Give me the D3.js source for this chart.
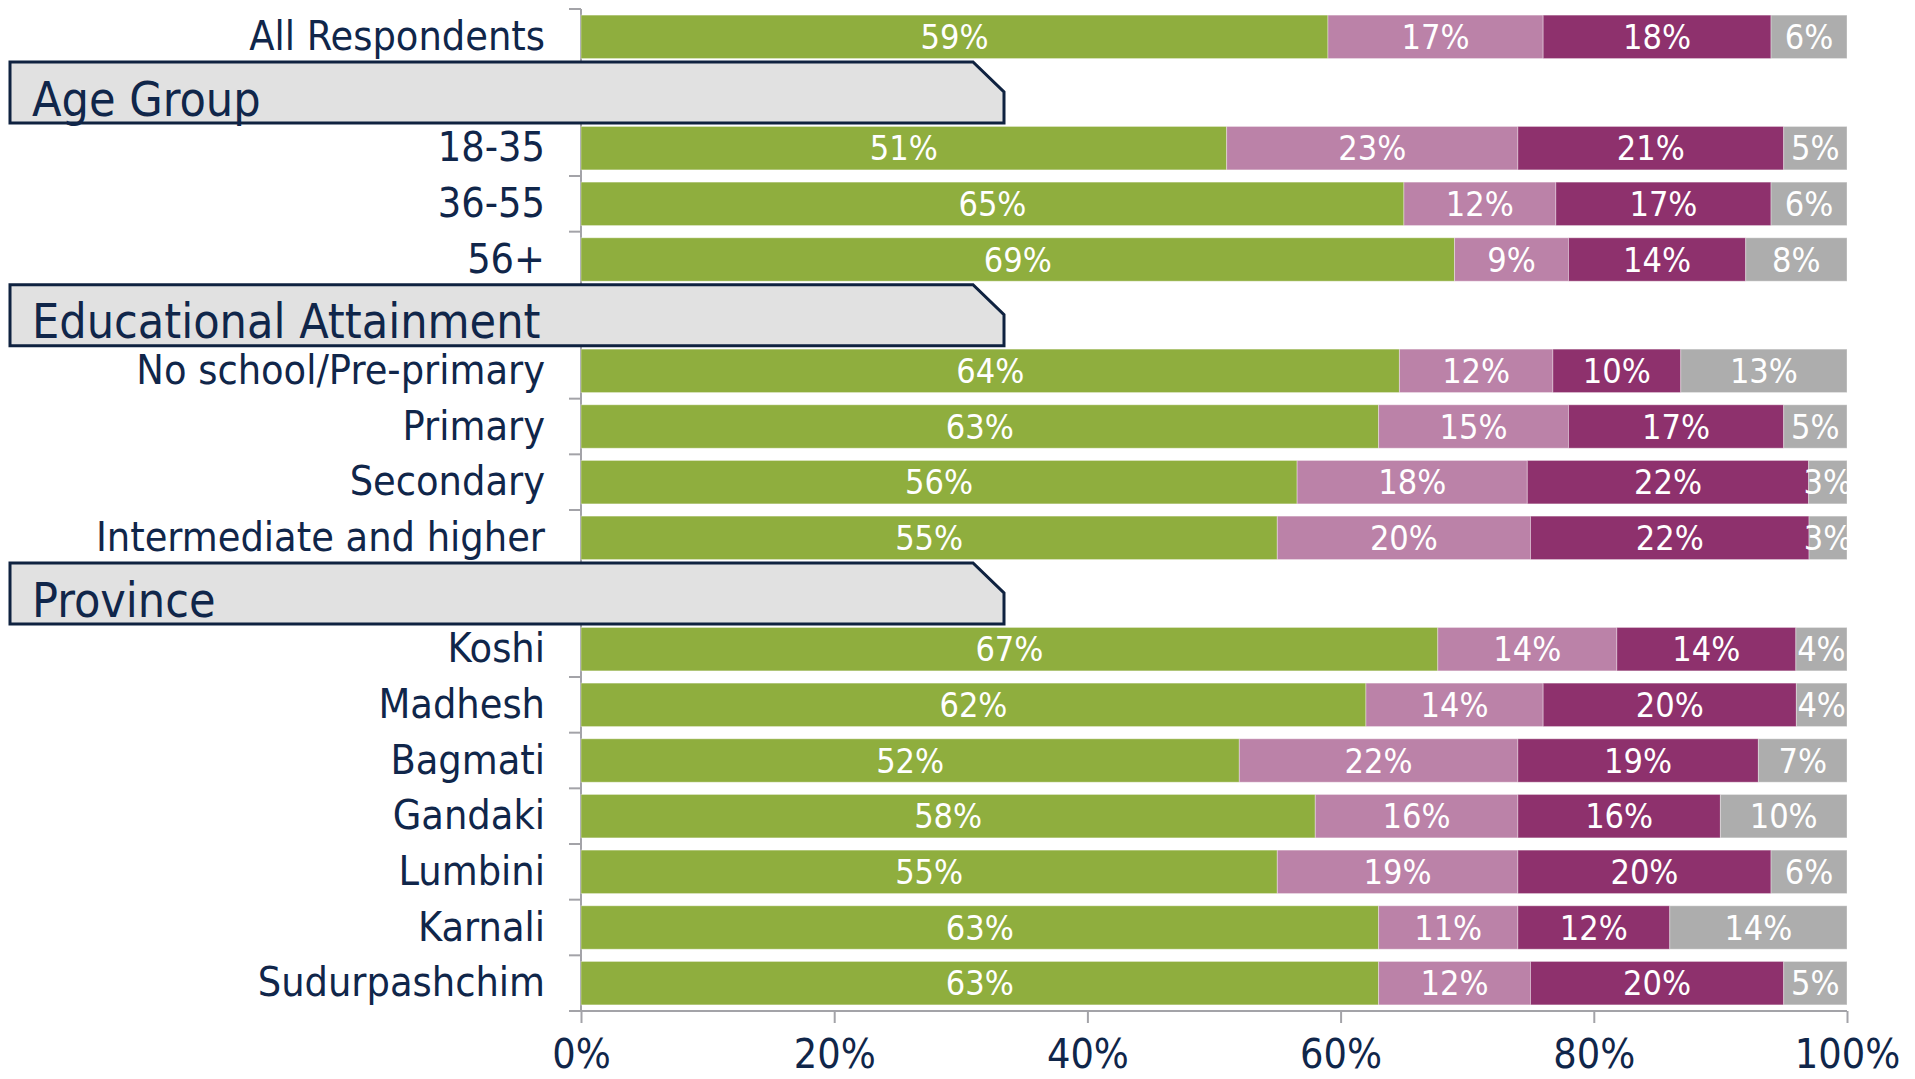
<!DOCTYPE html>
<html>
<head>
<meta charset="utf-8">
<script src="https://cdn.jsdelivr.net/npm/d3@7"></script>
<style>
  html, body { margin: 0; padding: 0; background: #fff; }
  svg { display: block; }
</style>
</head>
<body>
<script>
// rows in drawing order, group headers sit in their own row
const rowOrder = ["All Respondents", "Age Group", "18-35", "36-55", "56+",
  "Educational Attainment", "No school/Pre-primary", "Primary", "Secondary", "Intermediate and higher",
  "Province", "Koshi", "Madhesh", "Bagmati", "Gandaki", "Lumbini", "Karnali", "Sudurpashchim"];
const groupHeaders = ["Age Group", "Educational Attainment", "Province"];

const categories = ["All Respondents", "18-35", "36-55", "56+",
  "No school/Pre-primary", "Primary", "Secondary", "Intermediate and higher",
  "Koshi", "Madhesh", "Bagmati", "Gandaki", "Lumbini", "Karnali", "Sudurpashchim"];

// percent values, one per category (bars are 100% stacked)
const green       = [59, 51, 65, 69, 64, 63, 56, 55, 67, 62, 52, 58, 55, 63, 63];
const lightPurple = [17, 23, 12,  9, 12, 15, 18, 20, 14, 14, 22, 16, 19, 11, 12];
const darkPurple  = [18, 21, 17, 14, 10, 17, 22, 22, 14, 20, 19, 16, 20, 12, 20];
const grey        = [ 6,  5,  6,  8, 13,  5,  3,  3,  4,  4,  7, 10,  6, 14,  5];

const seriesKeys = ["green", "lightPurple", "darkPurple", "grey"];
const seriesColors = ["#8fae3e", "#bb82a8", "#8e316d", "#adadad"];
const tickValues = [0, 0.2, 0.4, 0.6, 0.8, 1];

const W = 1915, H = 1079;
const navy = "#10264a";
const labelFont = "'DejaVu Sans Condensed', 'DejaVu Sans', sans-serif";
const numFont = "'Liberation Sans Narrow', 'DejaVu Sans Condensed', sans-serif";

const table = categories.map((c, i) => ({
  category: c, green: green[i], lightPurple: lightPurple[i], darkPurple: darkPurple[i], grey: grey[i]
}));

const stacked = d3.stack().keys(seriesKeys).offset(d3.stackOffsetExpand)(table);

const svg = d3.select("body").append("svg").attr("width", W).attr("height", H);

const x = d3.scaleLinear().domain([0, 1]).range([581, 1847]);
const y = d3.scaleBand().domain(rowOrder).range([9, 1011]).paddingInner(0.22).paddingOuter(0.11);
const color = d3.scaleOrdinal().domain(seriesKeys).range(seriesColors);

// y axis line with ticks between rows, pointing left
const yAxis = svg.append("g").attr("stroke", "#a3a3a8").attr("stroke-width", 2);
yAxis.append("line").attr("x1", x(0)).attr("x2", x(0)).attr("y1", y.range()[0]).attr("y2", y.range()[1]);
const gap = y.step() * y.paddingInner() / 2;
rowOrder.forEach(r => {
  yAxis.append("line")
    .attr("x1", x(0) - 12).attr("x2", x(0))
    .attr("y1", y(r) - gap).attr("y2", y(r) - gap);
});

// bars
svg.append("g")
  .selectAll("g")
  .data(stacked)
  .join("g")
  .attr("fill", d => color(d.key))
  .selectAll("rect")
  .data(d => d)
  .join("rect")
  .attr("x", d => x(d[0]))
  .attr("width", d => x(d[1]) - x(d[0]))
  .attr("y", d => y(d.data.category))
  .attr("height", y.bandwidth())
  .attr("stroke", "#fff")
  .attr("stroke-opacity", 0.35)
  .attr("stroke-width", 1);

// value labels, clipped to plot area
svg.append("clipPath").attr("id", "plotClip")
  .append("rect")
  .attr("x", x(0)).attr("y", 0)
  .attr("width", x(1) - x(0)).attr("height", H);

const labelLayer = svg.append("g").attr("clip-path", "url(#plotClip)");
stacked.forEach(s => {
  labelLayer.append("g")
    .selectAll("text")
    .data(s)
    .join("text")
    .attr("x", d => x((d[0] + d[1]) / 2))
    .attr("y", d => y(d.data.category) + y.bandwidth() / 2 + 12)
    .attr("text-anchor", "middle")
    .attr("fill", "#fff")
    .style("font-family", numFont)
    .style("font-size", "34px")
    .text(d => d.data[s.key] + "%");
});

// category labels
svg.append("g")
  .selectAll("text")
  .data(categories)
  .join("text")
  .attr("x", 545)
  .attr("y", d => y(d) + y.bandwidth() / 2 + 13)
  .attr("text-anchor", "end")
  .attr("fill", navy)
  .style("font-family", labelFont)
  .style("font-size", "41px")
  .text(d => d);

// group header boxes
const boxLeft = 10, boxRight = 1004, cut = 31;
const headers = svg.append("g")
  .selectAll("g")
  .data(groupHeaders)
  .join("g");

headers.append("path")
  .attr("d", d => {
    const c = y(d) + y.bandwidth() / 2;
    const top = c - 30.5, bottom = c + 30.5;
    return `M${boxLeft},${top} L${boxRight - cut},${top} L${boxRight},${top + 30} L${boxRight},${bottom} L${boxLeft},${bottom} Z`;
  })
  .attr("fill", "#e1e1e1")
  .attr("stroke", "#0f2240")
  .attr("stroke-width", 3);

headers.append("text")
  .attr("x", 32)
  .attr("y", d => y(d) + y.bandwidth() / 2 + 23)
  .attr("fill", navy)
  .style("font-family", labelFont)
  .style("font-size", "48px")
  .text(d => d);

// x axis
const xAxis = svg.append("g")
  .attr("transform", `translate(0,${y.range()[1]})`)
  .call(d3.axisBottom(x).tickValues(tickValues).tickFormat(d3.format(".0%")).tickSize(12).tickPadding(16));
xAxis.select(".domain")
  .attr("d", `M${x(0) - 12},0H${x(1)}`)
  .attr("stroke", "#a3a3a8").attr("stroke-width", 2);
xAxis.selectAll(".tick line").attr("stroke", "#a3a3a8").attr("stroke-width", 2);
xAxis.selectAll(".tick text")
  .attr("fill", navy)
  .style("font-family", numFont)
  .style("font-size", "41px");
</script>
</body>
</html>
